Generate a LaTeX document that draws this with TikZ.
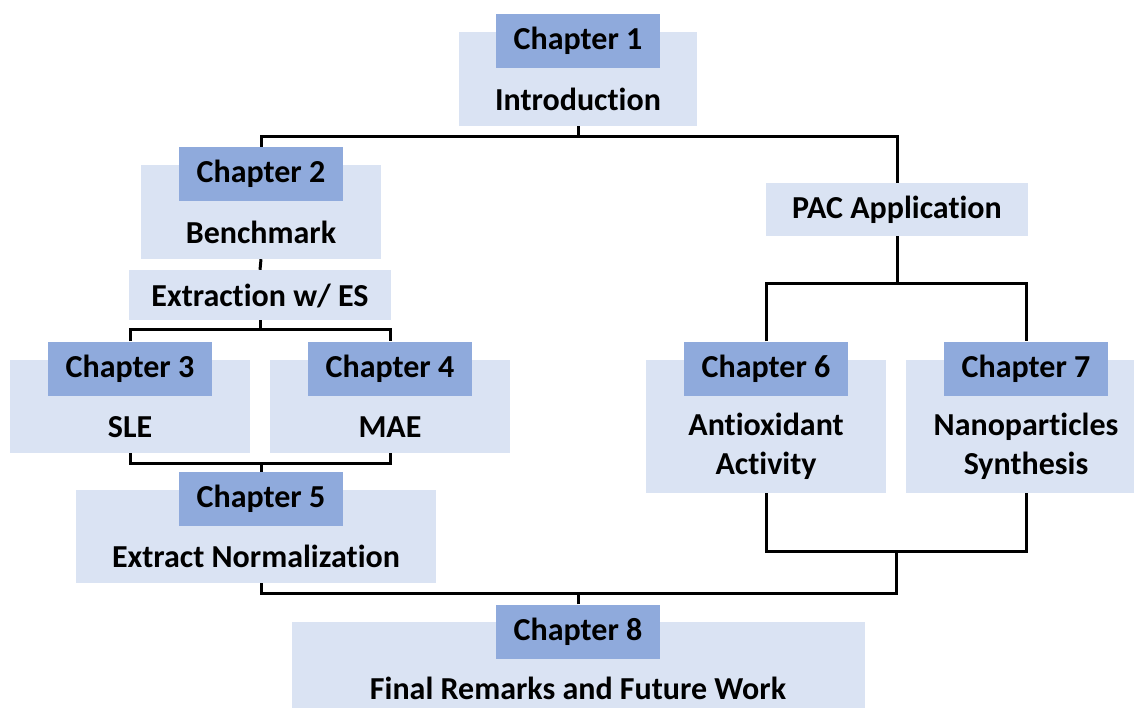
\documentclass[tikz,border=0pt]{standalone}
\usepackage{fontspec}
\setmainfont[RawFeature={-liga;-dlig}]{Carlito}
\begin{document}
\begin{tikzpicture}[x=1pt,y=-1pt,
  lightbox/.style={fill=lightblue,draw=none,inner sep=0pt,minimum width=#1},
  darkbox/.style={fill=darkblue,draw=none,inner sep=0pt,minimum width=164pt,minimum height=54pt,
    font=\fontsize{32}{39}\selectfont\bfseries},
  txt/.style={inner sep=0pt,align=center,font=\fontsize{32}{39}\selectfont\bfseries},
  conn/.style={draw=black,line width=3pt}]
\definecolor{lightblue}{HTML}{DAE3F3}
\definecolor{darkblue}{HTML}{8FAADC}
\useasboundingbox (0,0) rectangle (1134,708);
% Chapter 1
\node[lightbox=238pt,minimum height=94pt] (ch1) at (578,79) {};
\node[darkbox] (ch1d) at (578,41) {Chapter 1};
\node[txt] (ch1t) at (578,99) {Introduction};
% Chapter 2
\node[lightbox=240pt,minimum height=94pt] (ch2) at (261,212) {};
\node[darkbox] (ch2d) at (261,174) {Chapter 2};
\node[txt] (ch2t) at (261,232) {Benchmark};
% Extraction
\node[lightbox=262pt,minimum height=50pt] (ext) at (260,295) {};
\node[txt] (extt) at (260,296) {Extraction w/ ES};
% Chapter 3
\node[lightbox=240pt,minimum height=93pt] (ch3) at (130,406.5) {};
\node[darkbox] (ch3d) at (130,368.5) {Chapter 3};
\node[txt] (ch3t) at (130,427) {SLE};
% Chapter 4
\node[lightbox=240pt,minimum height=93pt] (ch4) at (390,406.5) {};
\node[darkbox] (ch4d) at (390,368.5) {Chapter 4};
\node[txt] (ch4t) at (390,427) {MAE};
% Chapter 5
\node[lightbox=360pt,minimum height=93pt] (ch5) at (256,536.5) {};
\node[darkbox] (ch5d) at (261,499) {Chapter 5};
\node[txt] (ch5t) at (256,556) {Extract Normalization};
% PAC
\node[lightbox=262pt,minimum height=53pt] (pac) at (897,209.5) {};
\node[txt] (pact) at (897,210) {PAC Application};
% Chapter 6
\node[lightbox=240pt,minimum height=133pt] (ch6) at (766,426.5) {};
\node[darkbox] (ch6d) at (766,368.5) {Chapter 6};
\node[txt] (ch6t) at (766,446) {Antioxidant\\Activity};
% Chapter 7
\node[lightbox=240pt,minimum height=133pt] (ch7) at (1026,426.5) {};
\node[darkbox] (ch7d) at (1026,368.5) {Chapter 7};
\node[txt] (ch7t) at (1026,446) {Nanoparticles\\Synthesis};
% Chapter 8
\node[lightbox=573pt,minimum height=92pt] (ch8) at (578.5,668) {};
\node[darkbox] (ch8d) at (578,631.5) {Chapter 8};
\node[txt] (ch8t) at (578,688) {Final Remarks and Future Work};
% connectors
\coordinate (j67) at (896,551);
\draw[conn] (ch1.south) -- ++(0,11);
\draw[conn] (ch2d.north) -- ++(0,-10) -| (pac.north);
\draw[conn] (ch2.south) -- (ext.north);
\draw[conn] (ext.south) -- ++(0,10);
\draw[conn] (ch3d.north) -- ++(0,-12) -| (ch4d.north);
\draw[conn] (ch3.south) -- ++(0,10) -| (ch4.south);
\draw[conn] (ch5d.north) -- ++(0,-10);
\draw[conn] (pac.south) -- ++(0,48);
\draw[conn] (ch6d.north) -- ++(0,-58) -| (ch7d.north);
\draw[conn] (ch6.south) -- ++(0,58) -| (ch7.south);
\draw[conn] (ch5d.north |- ch5.south) -- ++(0,10) -| (j67);
\draw[conn] (ch8d.north) -- ++(0,-12);
\end{tikzpicture}
\end{document}
